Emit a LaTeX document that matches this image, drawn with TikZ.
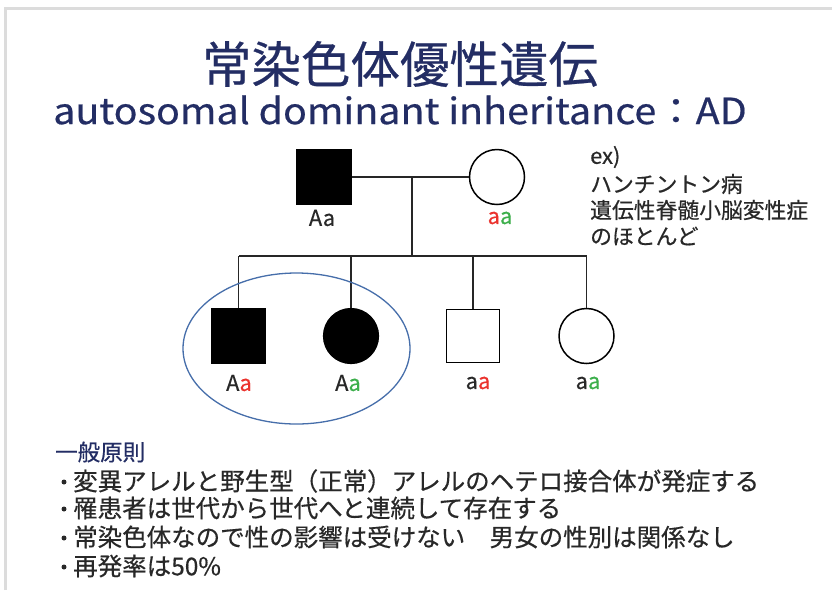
\documentclass[tikz,border=0pt]{standalone}
\usepackage{fontspec}
\setmainfont{Noto Sans CJK JP}[FakeBold=0.5]
\definecolor{navy}{RGB}{35,45,100}
\definecolor{frameg}{RGB}{220,220,220}
\definecolor{ared}{RGB}{235,50,45}
\definecolor{agreen}{RGB}{60,175,75}
\definecolor{txtg}{RGB}{40,40,40}
\definecolor{ellblue}{RGB}{70,110,170}
\tikzset{
  affsq/.style={draw=black,fill=black,rectangle,minimum size=54pt,inner sep=0pt,line width=1.2pt},
  affci/.style={draw=black,fill=black,circle,minimum size=55pt,inner sep=0pt,line width=1.2pt},
  unsq/.style={draw=black,fill=white,rectangle,minimum size=53pt,inner sep=0pt,line width=1.5pt},
  unci/.style={draw=black,fill=white,circle,minimum size=55pt,inner sep=0pt,line width=1.5pt},
  geno/.style={font=\fontsize{22}{24}\selectfont,text=txtg,inner sep=0pt},
  lnk/.style={draw=black!85,line width=1.2pt},
  bodytxt/.style={font=\fontsize{24.5}{28}\selectfont,text=txtg,inner sep=0pt,anchor=west},
  extxt/.style={font=\fontsize{21.8}{24}\selectfont,text=txtg,inner sep=0pt,anchor=west},
  bul/.style={circle,fill=txtg,inner sep=0pt,minimum size=5pt},
}
\begin{document}
\begin{tikzpicture}[x=1pt,y=-1pt]
\useasboundingbox (0,0) rectangle (832,590);
\fill[white] (0,0) rectangle (832,590);
% frame
\draw[frameg,line width=2.5pt] (5.5,590) -- (5.5,8.5) -- (832,8.5);
% titles
\node[text=navy,font=\fontsize{49.5}{52}\selectfont,inner sep=0pt] (title) at (400,64) {常染色体優性遺伝};
\node[text=navy,font=\fontsize{36}{40}\selectfont,inner sep=0pt] (subtitle) at (400,110) {\scalebox{1.095}[1]{autosomal dominant inheritance：AD}};
% parents
\node[affsq] (father) at (324,177) {};
\node[unci] (mother) at (497,177) {};
\node[geno] (gf) at (322,218) {Aa};
\node[geno] (gm) at (500,218) {\textcolor{ared}{a}\textcolor{agreen}{a}};
\coordinate (mid) at (412,177);
\coordinate (sib) at (412,256);
\coordinate (sl) at (239,256);
\coordinate (sr) at (586.5,256);
\draw[lnk] (father.east) -- (mother.west);
\draw[lnk] (mid) -- (sib);
\draw[lnk] (sl) -- (sr);
% children
\node[affsq] (c1) at (238.5,336) {};
\node[affci] (c2) at (351,336) {};
\node[unsq] (c3) at (473,336) {};
\node[unci] (c4) at (586.5,336) {};
\coordinate (t1) at (238.5,256);
\coordinate (t2) at (351,256);
\coordinate (t3) at (473,256);
\coordinate (t4) at (586.5,256);
\draw[lnk] (t1) -- (c1.north);
\draw[lnk] (t2) -- (c2.north);
\draw[lnk] (t3) -- (c3.north);
\draw[lnk] (t4) -- (c4.north);
\node[geno] (g1) at (239,383) {A\textcolor{ared}{a}};
\node[geno] (g2) at (348,383) {A\textcolor{agreen}{a}};
\node[geno] (g3) at (478,383) {a\textcolor{ared}{a}};
\node[geno] (g4) at (588,383) {a\textcolor{agreen}{a}};
\draw[ellblue,line width=1.3pt] (296.5,348.5) ellipse [x radius=113.5,y radius=75.5];
% example text
\node[extxt] (ex0) at (590,157) {ex)};
\node[extxt] (ex1) at (590,184) {ハンチントン病};
\node[extxt] (ex2) at (590,210) {遺伝性脊髄小脳変性症};
\node[extxt] (ex3) at (590,236) {のほとんど};
% principles
\node[bodytxt,text=navy,font=\fontsize{22.5}{26}\selectfont] (gp) at (55,452) {一般原則};
\node[bul] (d1) at (64,482) {};
\node[bul] (d2) at (64,509) {};
\node[bul] (d3) at (64,538) {};
\node[bul] (d4) at (64,567) {};
\node[bodytxt] (b1) at (73,481) {変異アレルと野生型（正常）アレルのヘテロ接合体が発症する};
\node[bodytxt] (b2) at (73,508) {罹患者は世代から世代へと連続して存在する};
\node[bodytxt] (b3) at (73,537) {常染色体なので性の影響は受けない　男女の性別は関係なし};
\node[bodytxt] (b4) at (73,566) {再発率は50\%};
\end{tikzpicture}
\end{document}
